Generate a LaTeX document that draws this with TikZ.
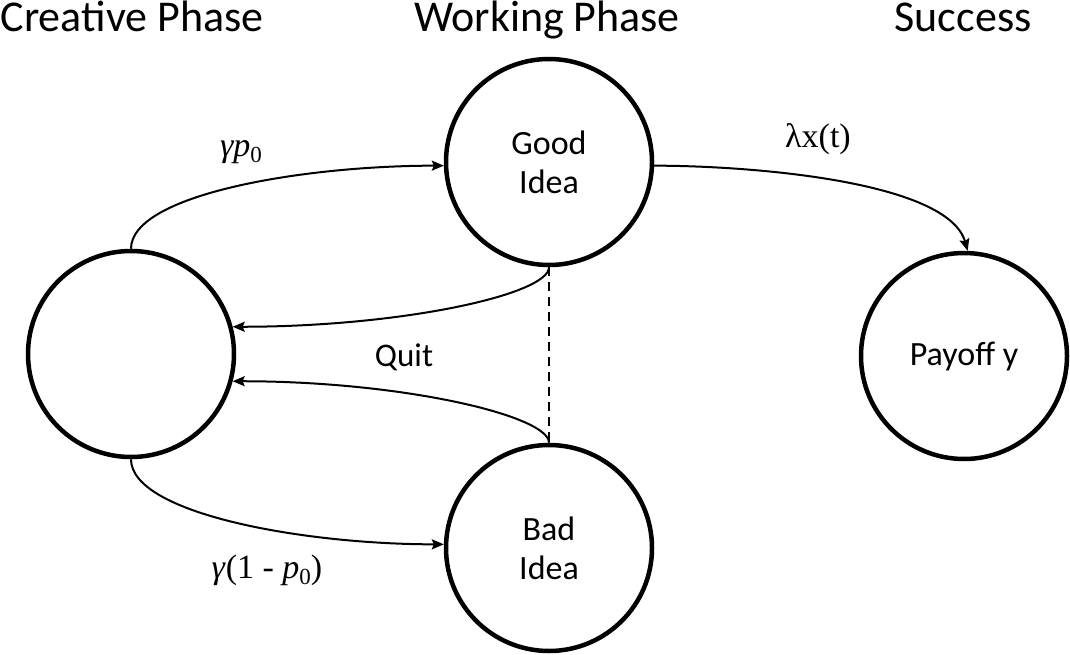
\documentclass[tikz,border=0pt]{standalone}
\usepackage{fontspec}
\setmainfont{Carlito}
\newfontfamily\serifmath{Liberation Serif}
\newcommand{\subz}{\raisebox{-0.18em}{\fontsize{23}{23}\selectfont 0}}
\usetikzlibrary{arrows.meta}
\begin{document}
\begin{tikzpicture}[x=1pt,y=-1pt,
  state/.style={circle,draw,line width=4.5pt,minimum size=206pt,inner sep=0pt,align=center,font=\fontsize{34}{39}\selectfont},
  head/.style={font=\fontsize{44}{48}\selectfont,inner sep=0pt,anchor=base},
  lab/.style={font=\fontsize{33}{36}\selectfont,inner sep=0pt},
  mlab/.style={font=\serifmath\fontsize{34}{36}\selectfont,inner sep=0pt},
  conn/.style={line width=2pt,-{Stealth[length=12pt,width=10pt,inset=2pt]}}]
\useasboundingbox (0,0) rectangle (1070,655);
\node[head] (h1) at (132,32) {Creative Phase};
\node[head] (h2) at (547,32) {Working Phase};
\node[head] (h3) at (963,32) {Success};
\node[state] (L) at (131,354) {};
\node[state] (G) at (549,162) {Good\\Idea};
\node[state] (B) at (549,548) {Bad\\Idea};
\node[state] (P) at (964,356) {Payoff y};
\draw[conn] (L.north) .. controls +(0,-54) and +(-142,0) .. (G.182);
\draw[conn] (L.south) .. controls +(0,54) and +(-142,0) .. (B.178);
\draw[conn] (G.south) .. controls +(0,27) and +(170,0) .. (L.15);
\draw[conn] (B.north) .. controls +(0,-27) and +(170,0) .. (L.-15);
\draw[conn] (G.-2) .. controls +(95,0) and +(-20,-70) .. (P.88);
\draw[line width=2.2pt,dash pattern=on 9pt off 6pt] (G.south) -- (B.north);
\node[mlab] (t1) at (241,152) {\textit{γp}\subz};
\node[mlab] (t2) at (267,570) {\textit{γ}(1 - \textit{p}\subz)};
\node[mlab] (t3) at (818,139) {λx(t)};
\node[lab] (q) at (404,357) {Quit};
\end{tikzpicture}
\end{document}
